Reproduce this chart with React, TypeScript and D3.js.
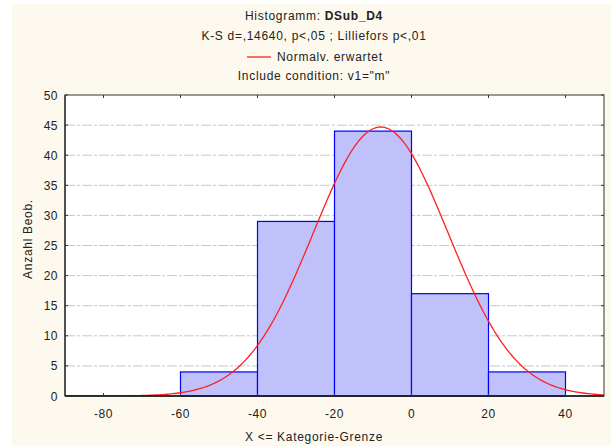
import React from "react";
import * as d3 from "d3";

const binEdges = [-60, -40, -20, 0, 20, 40];
const binCounts = [4, 29, 44, 17, 4];
const xTicks = [-80, -60, -40, -20, 0, 20, 40];
const yTicks = [0, 5, 10, 15, 20, 25, 30, 35, 40, 45, 50];
const normalMean = -8;
const normalSd = 17.5;
const totalN = 98;
const binWidth = 20;

const W = 611;
const H = 446;
const M = { left: 65, right: 604, top: 95, bottom: 396 };

export default function App() {
  const x = d3.scaleLinear().domain([-90, 50]).range([M.left, M.right]);
  const y = d3.scaleLinear().domain([0, 50]).range([M.bottom, M.top]);

  const curveX = d3.range(-90, 50.01, 0.5);
  const amp = (totalN * binWidth) / (normalSd * Math.sqrt(2 * Math.PI));
  const curvePts: [number, number][] = curveX.map((v) => [
    v,
    amp * Math.exp(-((v - normalMean) ** 2) / (2 * normalSd * normalSd)),
  ]);
  const line = d3
    .line<[number, number]>()
    .x((d) => x(d[0]))
    .y((d) => y(d[1]));

  const font = "'Liberation Sans', Arial, sans-serif";
  const textCol = "#222";
  const ls = 0.7;
  const cx = 314;

  return (
    <svg
      width={W}
      height={H}
      style={{ position: "absolute", left: 0, top: 0 }}
      fontFamily={font}
    >
      <rect x={0} y={0} width={W} height={H} fill="#ffffff" />
      <rect x={12} y={4} width={W - 12} height={H - 4} fill="#fef9ee" />
      <rect
        x={M.left}
        y={M.top}
        width={M.right - M.left}
        height={M.bottom - M.top}
        fill="#ffffff"
      />
      {yTicks
        .filter((t) => t > 0 && t < 50)
        .map((t) => (
          <line
            key={"g" + t}
            x1={M.left}
            x2={M.right}
            y1={y(t)}
            y2={y(t)}
            stroke="#c8c8c8"
            strokeWidth={1}
            strokeDasharray="10,2,3,2"
          />
        ))}
      {binCounts.map((c, i) => (
        <rect
          key={"b" + i}
          x={x(binEdges[i])}
          y={y(c)}
          width={x(binEdges[i + 1]) - x(binEdges[i])}
          height={y(0) - y(c)}
          fill="#c0c0fb"
          stroke="#0000ff"
          strokeWidth={1.2}
        />
      ))}
      <clipPath id="plotclip">
        <rect
          x={M.left}
          y={M.top}
          width={M.right - M.left}
          height={M.bottom - M.top}
        />
      </clipPath>
      <path
        d={line(curvePts) || ""}
        fill="none"
        stroke="#ff2020"
        strokeWidth={1.3}
        clipPath="url(#plotclip)"
      />
      <rect
        x={M.left}
        y={M.top}
        width={M.right - M.left}
        height={M.bottom - M.top}
        fill="none"
        stroke="#555"
        strokeWidth={1.2}
      />
      <line x1={M.left} x2={M.right} y1={M.bottom} y2={M.bottom} stroke="#111" strokeWidth={1.4} />
      <line x1={M.left} x2={M.left} y1={M.top} y2={M.bottom} stroke="#333" strokeWidth={1.4} />
      {xTicks.map((t) => (
        <g key={"xt" + t}>
          <line x1={x(t)} x2={x(t)} y1={M.bottom} y2={M.bottom - 3} stroke="#333" />
          <line x1={x(t)} x2={x(t)} y1={M.top} y2={M.top + 3} stroke="#333" />
          <text
            x={x(t)}
            y={M.bottom + 22}
            textAnchor="middle"
            fontSize={12}
            fill={textCol}
            letterSpacing={0.5}
          >
            {t}
          </text>
        </g>
      ))}
      {yTicks.map((t) => (
        <g key={"yt" + t}>
          <line x1={M.left} x2={M.left + 3} y1={y(t)} y2={y(t)} stroke="#333" />
          <line x1={M.right} x2={M.right - 3} y1={y(t)} y2={y(t)} stroke="#333" />
          <text
            x={M.left - 7}
            y={y(t) + 4.5}
            textAnchor="end"
            fontSize={12}
            fill={textCol}
            letterSpacing={0.5}
          >
            {t}
          </text>
        </g>
      ))}
      <text x={cx} y={441} textAnchor="middle" fontSize={12} fill={textCol} letterSpacing={ls}>
        {"X <= Kategorie-Grenze"}
      </text>
      <text
        transform={`translate(32,239) rotate(-90)`}
        textAnchor="middle"
        fontSize={12}
        fill={textCol}
        letterSpacing={ls}
      >
        Anzahl Beob.
      </text>
      <text x={cx} y={20} textAnchor="middle" fontSize={12} fill={textCol} letterSpacing={ls}>
        <tspan>Histogramm: </tspan>
        <tspan fontWeight="bold">DSub_D4</tspan>
      </text>
      <text x={cx} y={40} textAnchor="middle" fontSize={12} fill={textCol} letterSpacing={ls}>
        {"K-S d=,14640, p<,05 ; Lilliefors p<,01"}
      </text>
      <line x1={247} x2={271} y1={57} y2={57} stroke="#ff2020" strokeWidth={1.3} />
      <text x={277} y={61} fontSize={12} fill={textCol} letterSpacing={ls}>
        Normalv. erwartet
      </text>
      <text x={cx} y={80} textAnchor="middle" fontSize={12} fill={textCol} letterSpacing={ls}>
        {'Include condition: v1="m"'}
      </text>
    </svg>
  );
}
